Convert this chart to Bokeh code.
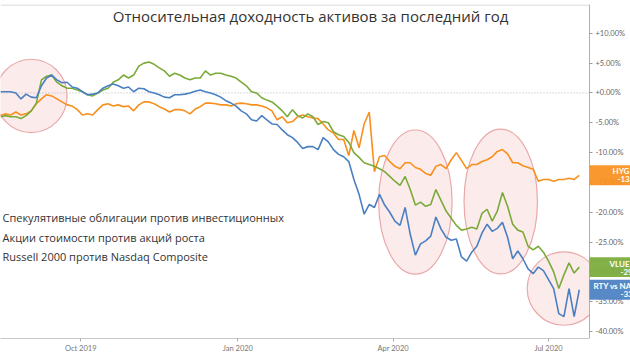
import pandas as pd
from bokeh.plotting import figure
from bokeh.models import Range1d, FixedTicker, Label, BoxAnnotation
from bokeh.embed import file_html
from bokeh.resources import INLINE

# ---------------- data ----------------
start_date = "2019-08-15"
series_names = ["HYG", "VLUE", "RTY vs NASDAQ"]
legend_texts = ["Спекулятивные облигации против инвестиционных",
                "Акции стоимости против акций роста",
                "Russell 2000 против Nasdaq Composite"]

hyg = [-3.8, -3.5, -3.7, -3.2, -3.7, -3.5, -3.0, -1.8, -1.0, -0.3,
       -0.5, -1.0, -1.5, -2.0, -2.2, -2.8, -3.7, -3.5, -3.7, -2.8,
       -2.0, -1.8, -2.2, -2.0, -2.3, -2.2, -3.0, -2.0, -1.5, -1.5,
       -1.8, -2.3, -2.7, -3.2, -2.8, -2.8, -3.0, -3.5, -2.7, -2.3,
       -1.7, -1.7, -1.8, -2.0, -2.0, -2.2, -1.8, -1.7, -1.8, -2.0,
       -2.0, -2.2, -2.5, -3.0, -4.5, -4.0, -5.0, -4.8, -4.0, -3.7,
       -4.0, -4.2, -4.3, -5.2, -6.2, -6.7, -7.8, -7.8, -10.5, -6.3,
       -9.2, -5.2, -3.2, -13.2, -10.7, -10.5, -11.5, -12.3, -12.7, -11.7,
       -11.7, -12.5, -12.8, -13.5, -13.8, -12.3, -12.0, -12.7, -11.2, -10.0,
       -11.3, -12.7, -12.0, -12.0, -11.5, -11.2, -10.7, -9.8, -9.5, -10.2,
       -11.7, -11.7, -12.2, -12.5, -12.8, -14.8, -14.5, -14.5, -14.8, -14.5,
       -14.5, -14.3, -14.5, -13.8]

vlue = [-4.0, -3.8, -4.0, -4.0, -4.3, -3.8, -3.0, -1.7, 2.2, 2.8,
        3.0, 1.8, 1.2, 0.8, 0.8, 0.5, 0.2, -0.3, -0.5, 0.0,
        0.5, 0.8, 1.8, 2.2, 3.0, 2.5, 3.0, 4.5, 5.0, 5.2,
        4.8, 4.2, 3.7, 2.8, 3.3, 3.0, 2.5, 2.2, 2.5, 2.5,
        3.7, 3.0, 3.3, 3.3, 3.0, 2.8, 2.5, 1.8, 1.2, 0.2,
        0.0, -0.8, -1.2, -1.5, -2.2, -3.0, -4.0, -2.8, -3.8, -4.2,
        -3.5, -4.0, -5.3, -4.8, -5.0, -6.5, -7.0, -7.3, -8.3, -10.0,
        -10.8, -11.7, -12.0, -12.3, -12.7, -13.2, -14.0, -14.8, -15.5, -14.0,
        -16.2, -18.8, -18.3, -19.0, -18.7, -16.2, -18.0, -19.8, -21.0, -22.2,
        -23.0, -22.8, -22.5, -22.8, -20.2, -19.5, -21.5, -19.8, -16.7, -19.0,
        -22.0, -23.0, -23.3, -25.7, -26.3, -25.7, -26.7, -28.2, -30.0, -32.8,
        -30.5, -28.5, -30.2, -29.2]

rty_vs_nasdaq = [0.2, 0.2, 0.2, 0.0, -1.0, -0.2, -0.7, -0.8, 1.2, 2.5,
                 3.0, 2.2, 1.7, 1.8, 1.0, 0.8, 0.2, -0.3, -0.2, 0.0,
                 0.8, 1.2, 1.5, 1.2, 0.8, 1.0, 0.2, 0.8, 0.7, 0.2,
                 0.0, -0.3, -0.7, -0.8, -0.3, -0.3, -0.2, 0.0, 0.3, 0.5,
                 0.2, 0.0, -0.3, -0.7, -1.3, -1.7, -2.2, -3.0, -3.5, -4.5,
                 -4.7, -3.8, -4.5, -5.2, -5.3, -6.2, -7.0, -7.5, -8.3, -9.3,
                 -9.0, -9.0, -9.5, -7.5, -8.2, -9.5, -10.3, -10.7, -11.5, -14.5,
                 -17.0, -20.3, -18.7, -19.2, -17.0, -18.8, -20.0, -21.5, -22.2, -19.2,
                 -23.7, -27.2, -25.3, -24.8, -24.0, -20.8, -22.8, -24.2, -24.7, -24.5,
                 -27.5, -28.2, -26.7, -25.7, -23.5, -22.0, -23.2, -22.7, -21.7, -24.2,
                 -27.8, -26.5, -27.8, -29.5, -30.3, -29.2, -29.8, -31.3, -32.8, -37.0,
                 -37.5, -32.8, -37.5, -33.0]

dates = pd.date_range(start_date, periods=len(hyg), freq="3D")

y_ticks = [10, 5, 0, -5, -10, -15, -20, -25, -30, -35, -40]
y_tick_labels = ["+10.00%", "+5.00%", "+0.00%", "-5.00%", "-10.00%", "-15.00%",
                 "-20.00%", "-25.00%", "-30.00%", "-35.00%", "-40.00%"]
x_tick_dates = ["2019-10-01", "2020-01-01", "2020-04-01", "2020-07-01"]
x_tick_labels = ["Oct 2019", "Jan 2020", "Apr 2020", "Jul 2020"]

# highlighted regions (center date, center value, width in days, height in %)
ell_dates = ["2019-09-02", "2020-04-14", "2020-06-03", "2020-07-10"]
ell_vals = [-0.5, -18.3, -18.2, -32.8]
ell_days = [42, 43, 43, 43]
ell_heights = [12.3, 24.2, 24.3, 12.3]

# ---------------- layout / styling ----------------
C_HYG = "#f7901e"
C_VLUE = "#7aab3a"
C_RTY = "#4a80c2"

MS = lambda d: pd.Timestamp(d).value / 1e6
x_start = MS("2019-08-15")
axis_at = MS("2020-07-25")      # where the value axis sits
x_end = MS("2020-08-18")        # right edge of the canvas (room for the value boxes)
Y0, Y1 = -41.17, 14.83
FRAME_TOP, FRAME_BOTTOM = 4, 340


def to_px(v):
    return FRAME_TOP + (Y1 - v) * (FRAME_BOTTOM - FRAME_TOP) / (Y1 - Y0)


p = figure(width=630, height=355, x_axis_type="datetime", y_axis_location="right",
           output_backend="svg", toolbar_location=None,
           x_range=Range1d(x_start, x_end), y_range=Range1d(Y0, Y1),
           min_border_left=0, min_border_right=0, min_border_top=FRAME_TOP, min_border_bottom=15)
p.xgrid.visible = False
p.ygrid.visible = False
p.outline_line_color = None
p.background_fill_color = "white"
p.border_fill_color = "white"

# value axis, drawn at a fixed position so that the boxes can sit over it
ya = p.yaxis[0]
ya.fixed_location = axis_at
ya.ticker = FixedTicker(ticks=y_ticks)
ya.major_label_overrides = {t: l for t, l in zip(y_ticks, y_tick_labels)}
ya.minor_tick_line_color = None
ya.major_tick_in = 0
ya.major_tick_out = 3
ya.major_tick_line_color = "#999999"
ya.axis_line_color = "#b0b0b0"
ya.major_label_text_font = "Lato"
ya.major_label_text_font_size = "7.5px"
ya.major_label_text_color = "#666666"
ya.major_label_standoff = 3

# time axis
xa = p.xaxis[0]
tick_ms = [MS(d) for d in x_tick_dates]
xa.ticker = FixedTicker(ticks=tick_ms)
xa.bounds = (x_start, axis_at)
xa.major_label_overrides = {t: l for t, l in zip(tick_ms, x_tick_labels)}
xa.minor_tick_line_color = None
xa.major_tick_in = 0
xa.major_tick_out = 3
xa.major_tick_line_color = "#aaaaaa"
xa.axis_line_color = "#c8c8c8"
xa.major_label_text_font = "Lato"
xa.major_label_text_font_size = "7.5px"
xa.major_label_text_color = "#777777"
xa.major_label_standoff = 2
xa.axis_label_standoff = 0

# highlight ellipses
p.ellipse(x=pd.to_datetime(ell_dates), y=ell_vals,
          width=[d * 86400000 for d in ell_days], height=ell_heights,
          fill_color="#f6caca", fill_alpha=0.38, line_color="#eaa8a8", line_width=1.2)
# keep the area right of the value axis clean
p.quad(left=[axis_at], right=[x_end], bottom=[Y0], top=[Y1], fill_color="white", line_color=None)

# top border & dotted zero line (only across the plotting area)
p.line([x_start, axis_at], [Y1 - 0.09, Y1 - 0.09], line_color="#d0d0d0", line_width=1)
p.line([x_start, axis_at], [0, 0], line_color="#b5b5b5", line_width=1, line_dash="1 2")

# series
p.line(dates, hyg, line_color=C_HYG, line_width=1.6)
p.line(dates, vlue, line_color=C_VLUE, line_width=1.6)
p.line(dates, rty_vs_nasdaq, line_color=C_RTY, line_width=1.6)

# title
p.add_layout(Label(x=310, y=15, x_units="canvas", y_units="canvas",
                   text="Относительная доходность активов за последний год",
                   text_align="center", text_baseline="middle",
                   text_font="Open Sans", text_font_size="15px", text_color="#333333"))

# left legend texts
for i, t in enumerate(legend_texts):
    p.add_layout(Label(x=2, y=217 + i * 19.5, x_units="canvas", y_units="canvas",
                       text=t, text_align="left", text_baseline="middle",
                       text_font="Open Sans", text_font_size="11px", text_color="#333333"))

# right-side value boxes, centred on each series' last value
last_vals = [hyg[-1], vlue[-1], rty_vs_nasdaq[-1]]
box_colors = [C_HYG, C_VLUE, C_RTY]
name_x = [612, 609, 593]
value_x = [617, 620, 620]
half_box = 10 * (Y1 - Y0) / (FRAME_BOTTOM - FRAME_TOP)   # 10 px in value units
for name, v, c, nx, vx in zip(series_names, last_vals, box_colors, name_x, value_x):
    p.add_layout(BoxAnnotation(left=axis_at, right=x_end, top=v + half_box, bottom=v - half_box,
                               fill_color=c, fill_alpha=0.93, line_color=None))
    top_px = to_px(v) - 10
    p.add_layout(Label(x=nx, y=top_px + 5, x_units="canvas", y_units="canvas",
                       text=name, text_align="left", text_baseline="middle",
                       text_font="Lato", text_font_size="8px", text_font_style="bold",
                       text_color="white"))
    p.add_layout(Label(x=vx, y=top_px + 13, x_units="canvas", y_units="canvas",
                       text=f"{v:.2f}%", text_align="left", text_baseline="middle",
                       text_font="Lato", text_font_size="8px", text_font_style="bold",
                       text_color="white"))

open("out.html", "w").write(file_html(p, INLINE))
